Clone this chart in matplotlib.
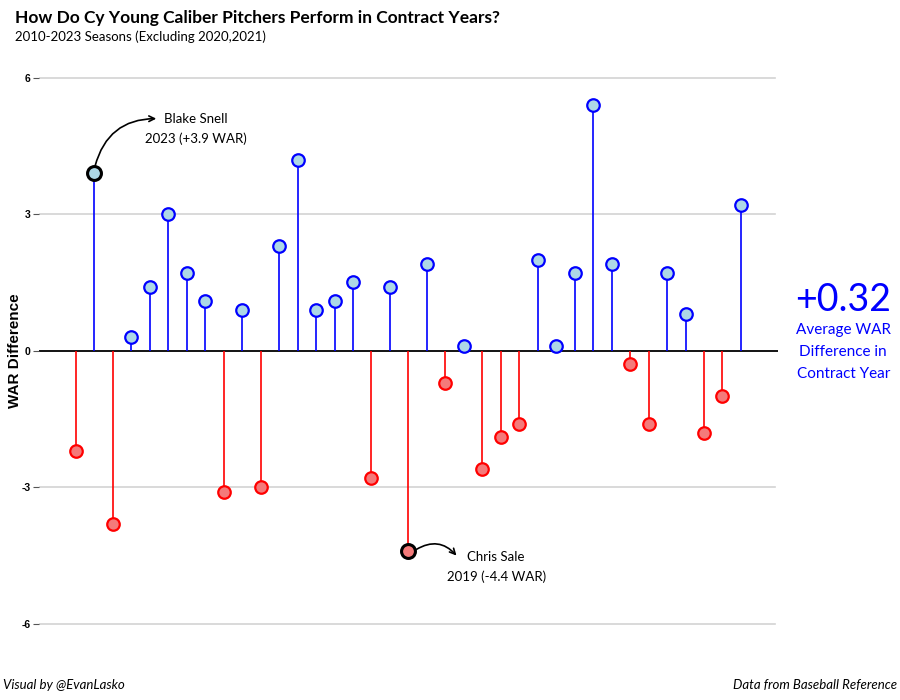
import numpy as np
import matplotlib.pyplot as plt

# WAR difference in contract year, one value per pitcher season
war_diff = [-2.2, 3.9, -3.8, 0.3, 1.4, 3.0, 1.7, 1.1, -3.1, 0.9,
            -3.0, 2.3, 4.2, 0.9, 1.1, 1.5, -2.8, 1.4, -4.4, 1.9,
            -0.7, 0.1, -2.6, -1.9, -1.6, 2.0, 0.1, 1.7, 5.4, 1.9,
            -0.3, -1.6, 1.7, 0.8, -1.8, -1.0, 3.2]
highlight = [1, 18]  # Blake Snell 2023, Chris Sale 2019
y_ticks = [-6, -3, 0, 3, 6]
avg_label = "+0.32"

main_font = "Lato"
axis_font = "Liberation Sans"

vals = np.array(war_diff)
x = np.arange(len(vals))
pos = vals >= 0

fig = plt.figure(figsize=(9, 7), dpi=100)
ax = fig.add_axes([0.0433, 0.07, 0.821, 0.858])

for yt in y_ticks:
    if yt != 0:
        ax.axhline(yt, xmax=0.996, color="#d3d3d3", lw=1.2, zorder=0)
ax.axhline(0, color="black", lw=1.3, zorder=1)

ax.vlines(x[pos], 0, vals[pos], color="blue", lw=1.2, zorder=2)
ax.vlines(x[~pos], 0, vals[~pos], color="red", lw=1.2, zorder=2)

ax.plot(x[pos], vals[pos], "o", ms=9, mfc="lightblue", mec="blue", mew=1.6, zorder=3)
ax.plot(x[~pos], vals[~pos], "o", ms=9, mfc="#f47a7a", mec="red", mew=1.6, zorder=3)
for i in highlight:
    fc = "lightblue" if vals[i] >= 0 else "#f47a7a"
    ax.plot(x[i], vals[i], "o", ms=10, mfc=fc, mec="black", mew=2.2, zorder=4)

# annotations
ax.annotate("", xy=(4.5, 5.1), xytext=(x[1], vals[1] + 0.1),
            arrowprops=dict(arrowstyle="->", color="black", lw=1.2,
                            connectionstyle="arc3,rad=-0.4"))
ax.text(6.5, 4.88, "Blake Snell\n2023 (+3.9 WAR)", ha="center", va="center",
        fontsize=9.5, family=main_font, linespacing=1.7)
ax.annotate("", xy=(20.7, -4.55), xytext=(x[18] + 0.3, vals[18]),
            arrowprops=dict(arrowstyle="->", color="black", lw=1.2,
                            connectionstyle="arc3,rad=-0.45"))
ax.text(22.75, -4.75, "Chris Sale\n2019 (-4.4 WAR)", ha="center", va="center",
        fontsize=9.5, family=main_font, linespacing=1.7)

ax.set_xlim(-2, 38)
ax.set_ylim(-6.6, 6.6)
ax.set_yticks(y_ticks)
ax.set_yticklabels([str(t) for t in y_ticks], fontsize=7.5, fontweight="bold", family=axis_font)
ax.tick_params(axis="y", length=4, width=0.8, color="#555555", pad=2)
ax.set_xticks([])
for s in ax.spines.values():
    s.set_visible(False)
ax.set_ylabel("WAR Difference", fontsize=11, fontweight="bold", family=axis_font, labelpad=0)

fig.text(0.017, 0.974, "How Do Cy Young Caliber Pitchers Perform in Contract Years?",
         fontsize=12.5, fontweight="bold", family=main_font, va="center")
fig.text(0.017, 0.947, "2010-2023 Seasons (Excluding 2020,2021)",
         fontsize=9.5, family=main_font, va="center")

fig.text(0.937, 0.571, avg_label, fontsize=27, color="blue", family=main_font,
         ha="center", va="center")
fig.text(0.937, 0.497, "Average WAR\nDifference in\nContract Year", fontsize=11,
         color="blue", family=main_font, ha="center", va="center", linespacing=1.75)

fig.text(0.003, 0.021, "Visual by @EvanLasko", fontsize=9.5, style="italic",
         family=main_font, va="center")
fig.text(0.997, 0.021, "Data from Baseball Reference", fontsize=9.5, style="italic",
         family=main_font, va="center", ha="right")

fig.savefig("out.png", dpi=100)
